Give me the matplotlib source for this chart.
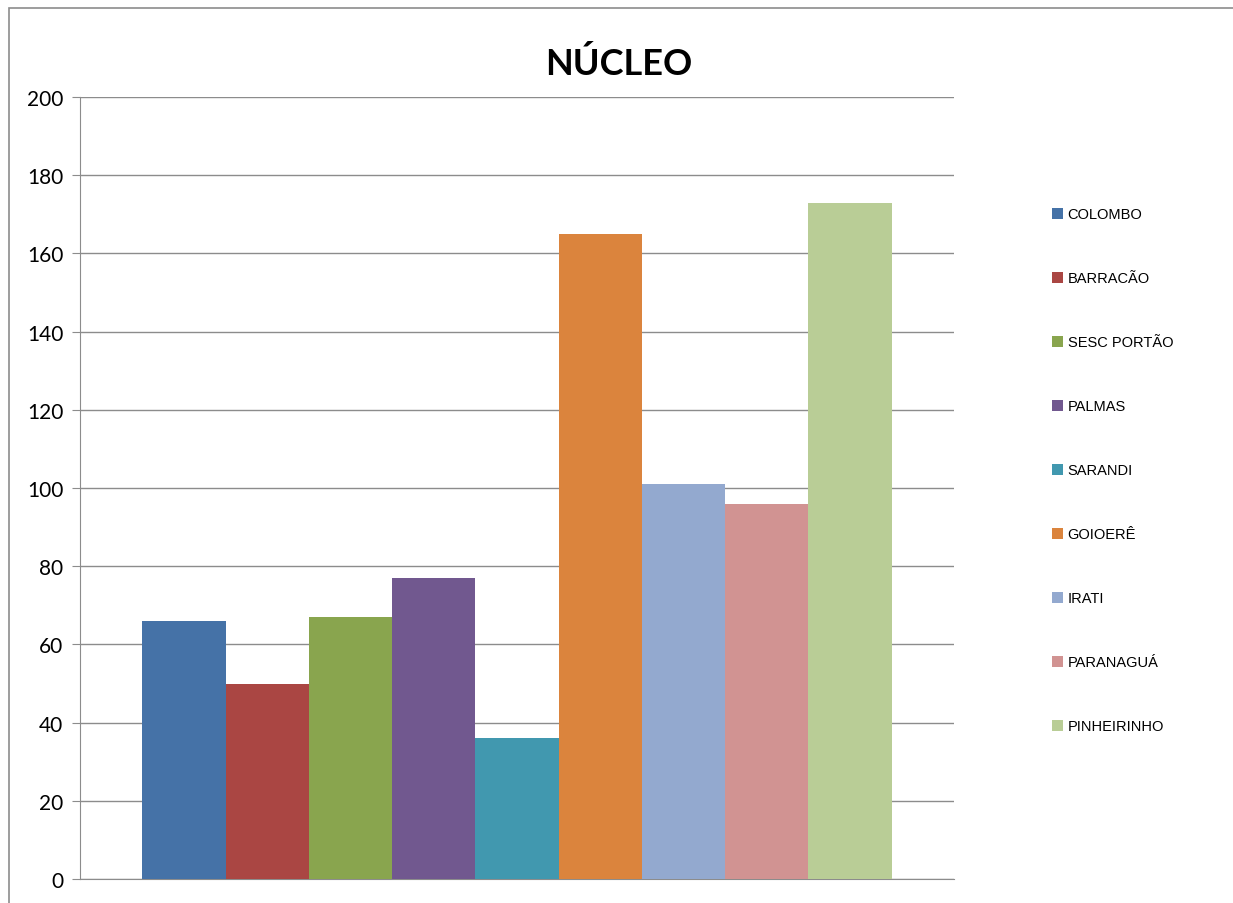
import matplotlib.pyplot as plt
from matplotlib.patches import Rectangle

nucleos = ["COLOMBO", "BARRACÃO", "SESC PORTÃO", "PALMAS", "SARANDI",
           "GOIOERÊ", "IRATI", "PARANAGUÁ", "PINHEIRINHO"]
valores = [66, 50, 67, 77, 36, 165, 101, 96, 173]
cores = ["#4572A7", "#AA4643", "#89A54E", "#71588F", "#4198AF",
         "#DB843D", "#93A9CF", "#D19392", "#B9CD96"]
yticks = [0, 20, 40, 60, 80, 100, 120, 140, 160, 180, 200]

fig = plt.figure(figsize=(12.33, 9.04), dpi=100)
ax = fig.add_axes([80/1233, 24/904, 874/1233, 782/904])

# moldura do gráfico
fig.patches.append(Rectangle((9/1233, -0.1), 1.2, (904-9)/904 + 0.1,
                             transform=fig.transFigure, fill=False,
                             edgecolor="#8c8c8c", linewidth=1.2))

for i in range(len(nucleos)):
    ax.bar(i, valores[i], width=1.0, color=cores[i], label=nucleos[i], zorder=3)

ax.set_xlim(-1.25, 9.25)
ax.set_ylim(0, 200)
ax.set_yticks(yticks)
ax.set_xticks([])
ax.grid(axis="y", color="#8c8c8c", linewidth=1, zorder=0)
for s in ["top", "right"]:
    ax.spines[s].set_visible(False)
ax.spines["left"].set_color("#8c8c8c")
ax.spines["bottom"].set_color("#8c8c8c")
ax.tick_params(axis="y", length=6, color="#8c8c8c", labelsize=15, pad=6)
for t in ax.get_yticklabels():
    t.set_fontfamily("Lato")

fig.text(619/1233, (904-64)/904, "NÚCLEO", ha="center", va="center",
         fontsize=26, fontweight="bold", family="Lato")

leg = ax.legend(loc="upper left", bbox_to_anchor=(1045/1233, (904-201)/904),
                bbox_transform=fig.transFigure, frameon=False,
                prop={"family": "Liberation Sans", "size": 10.5},
                labelspacing=3.43, handlelength=0.75, handleheight=0.75,
                handletextpad=0.3, borderpad=0)

fig.savefig("out.png", dpi=100)
